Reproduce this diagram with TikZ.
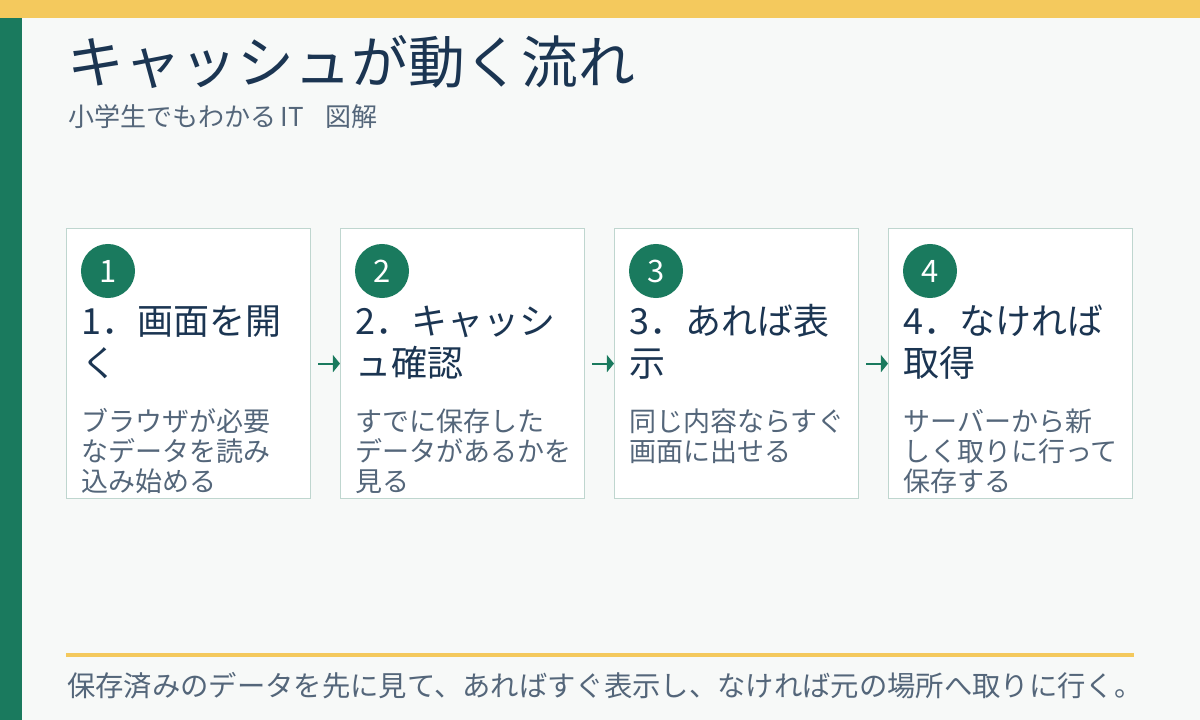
\documentclass[tikz,border=0pt]{standalone}
\usepackage{fontspec}
\setmainfont{Noto Sans CJK JP}
\usetikzlibrary{positioning,arrows.meta,calc}

\definecolor{accentgreen}{HTML}{1A7A5E}
\definecolor{accentyellow}{HTML}{F4C95D}
\definecolor{paper}{HTML}{F7F9F8}
\definecolor{navy}{HTML}{1B3552}
\definecolor{slate}{HTML}{54667A}
\definecolor{cardline}{HTML}{BFD6CF}

\tikzset{
  card/.style={draw=cardline, line width=0.8pt, fill=white, anchor=north west,
    minimum width=6.1cm, minimum height=6.75cm, inner sep=0pt},
  badge/.style={circle, fill=accentgreen, text=white, minimum size=1.35cm,
    inner sep=0pt, font=\fontsize{22}{26}\selectfont},
  cardhead/.style={anchor=base west, align=left, text=navy, inner sep=0pt,
    font=\fontsize{25.6}{29.2}\selectfont},
  cardbody/.style={anchor=base west, align=left, text=slate, inner sep=0pt,
    font=\fontsize{19.2}{21.3}\selectfont},
  flowarrow/.style={-{Triangle[length=5pt,width=12pt]}, accentgreen, line width=1.4pt},
}

\begin{document}
\begin{tikzpicture}[x=0.025cm, y=-0.025cm]
  % Background and bars
  \fill[paper] (0,0) rectangle (1200,720);
  \fill[accentyellow] (0,0) rectangle (1200,18);
  \fill[accentgreen] (0,18) rectangle (22,720);

  % Title
  \node[anchor=base west, inner sep=0pt, text=navy, font=\fontsize{40.4}{48}\selectfont]
    (title) at (67,84) {キャッシュが動く流れ};
  \node[anchor=base west, inner sep=0pt, text=slate, font=\fontsize{18.5}{22}\selectfont]
    (subtitle) at (68,127) {小学生でもわかる\,IT\hspace{15pt}図解};

  % Cards (last offset = baseline of the body's last line)
  \foreach \i/\x/\head/\body/\last in {
      1/66/{1．画面を開\\く}/{ブラウザが必要\\なデータを読み\\込み始める}/263,
      2/340/{2．キャッシ\\ュ確認}/{すでに保存した\\データがあるかを\\見る}/263,
      3/614/{3．あれば表\\示}/{同じ内容ならすぐ\\画面に出せる}/233,
      4/888/{4．なければ\\取得}/{サーバーから新\\しく取りに行って\\保存する}/263}{
    \node[card] (c\i) at (\x,228) {};
    \node[badge] (n\i) at ($(c\i.north west)+(42,43)$) {\i};
    \node[cardhead] (h\i) at ($(c\i.north west)+(15,148)$) {\head};
    \node[cardbody] (b\i) at ($(c\i.north west)+(15,\last)$) {\body};
  }

  % Arrows
  \foreach \a/\b in {1/2,2/3,3/4}
    \draw[flowarrow] ([xshift=5pt]c\a.east) -- (c\b.west);

  % Summary
  \draw[accentyellow, line width=2.8pt] (66,655) -- (1134,655);
  \node[anchor=base west, inner sep=0pt, text=slate, font=\fontsize{20.15}{24}\selectfont]
    (summary) at (67,696) {保存済みのデータを先に見て、あればすぐ表示し、なければ元の場所へ取りに行く。};
\end{tikzpicture}
\end{document}
